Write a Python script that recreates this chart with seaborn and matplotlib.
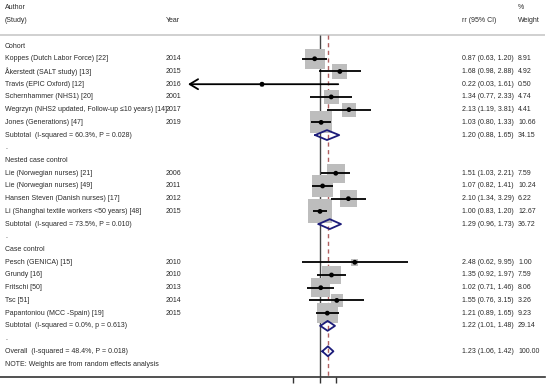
import numpy as np
import pandas as pd
import matplotlib
matplotlib.use("Agg")
import matplotlib.pyplot as plt
import seaborn as sns

# ---- data ----
groups = ["Cohort", "Nested case control", "Case control"]

cohort_study = ["Koppes (Dutch Labor Force) [22]", "Åkerstedt (SALT study) [13]",
                "Travis (EPIC Oxford) [12]", "Schernhammer (NHS1) [20]",
                "Wegrzyn (NHS2 updated, Follow-up ≤10 years) [14]", "Jones (Generations) [47]"]
cohort_year = [2014, 2015, 2016, 2001, 2017, 2019]
cohort_rr = [0.87, 1.68, 0.22, 1.34, 2.13, 1.03]
cohort_lo = [0.63, 0.98, 0.03, 0.77, 1.19, 0.80]
cohort_hi = [1.20, 2.88, 1.61, 2.33, 3.81, 1.33]
cohort_wt = [8.91, 4.92, 0.50, 4.74, 4.41, 10.66]

nested_study = ["Lie (Norwegian nurses) [21]", "Lie (Norwegian nurses) [49]",
                "Hansen Steven (Danish nurses) [17]", "Li (Shanghai textile workers <50 years) [48]"]
nested_year = [2006, 2011, 2012, 2015]
nested_rr = [1.51, 1.07, 2.10, 1.00]
nested_lo = [1.03, 0.82, 1.34, 0.83]
nested_hi = [2.21, 1.41, 3.29, 1.20]
nested_wt = [7.59, 10.24, 6.22, 12.67]

case_study = ["Pesch (GENICA) [15]", "Grundy [16]", "Fritschi [50]", "Tsc [51]",
              "Papantoniou (MCC -Spain) [19]"]
case_year = [2010, 2010, 2013, 2014, 2015]
case_rr = [2.48, 1.35, 1.02, 1.55, 1.21]
case_lo = [0.62, 0.92, 0.71, 0.76, 0.89]
case_hi = [9.95, 1.97, 1.46, 3.15, 1.65]
case_wt = [1.00, 7.59, 8.06, 3.26, 9.23]

sub_label = ["Subtotal  (I-squared = 60.3%, P = 0.028)",
             "Subtotal  (I-squared = 73.5%, P = 0.010)",
             "Subtotal  (I-squared = 0.0%, p = 0.613)"]
sub_rr = [1.20, 1.29, 1.22]
sub_lo = [0.88, 0.96, 1.01]
sub_hi = [1.65, 1.73, 1.48]
sub_wt = [34.15, 36.72, 29.14]

overall_label = "Overall  (I-squared = 48.4%, P = 0.018)"
overall_rr, overall_lo, overall_hi, overall_wt = 1.23, 1.06, 1.42, 100.00
note = "NOTE: Weights are from random effects analysis"

# ---- build row table ----
rows = []
r = 0
for g, (st, yr, rr, lo, hi, wt) in enumerate([
        (cohort_study, cohort_year, cohort_rr, cohort_lo, cohort_hi, cohort_wt),
        (nested_study, nested_year, nested_rr, nested_lo, nested_hi, nested_wt),
        (case_study, case_year, case_rr, case_lo, case_hi, case_wt)]):
    rows.append(dict(row=r, kind="head", label=groups[g])); r += 1
    for i in range(len(st)):
        rows.append(dict(row=r, kind="study", label=st[i], year=yr[i], rr=rr[i],
                         lo=lo[i], hi=hi[i], wt=wt[i])); r += 1
    rows.append(dict(row=r, kind="sub", label=sub_label[g], rr=sub_rr[g],
                     lo=sub_lo[g], hi=sub_hi[g], wt=sub_wt[g])); r += 1
    rows.append(dict(row=r, kind="dot", label=".")); r += 1
rows.append(dict(row=r, kind="sub", label=overall_label, rr=overall_rr,
                 lo=overall_lo, hi=overall_hi, wt=overall_wt)); r += 1
rows.append(dict(row=r, kind="note", label=note))
df = pd.DataFrame(rows)
studies = df[df.kind == "study"]
subs = df[df.kind == "sub"]

# ---- figure ----
sns.set_theme(style="white")
plt.rcParams["font.family"] = ["Liberation Sans", "DejaVu Sans"]
fs = 5.0
tc = "#2a2a2a"

fig = plt.figure(figsize=(5.5, 3.89), dpi=100)
W = 545.0          # axes width in px
null_px = 320.0    # px of rr = 1
scale = 38.3       # px per ln unit
ax = fig.add_axes([0, 12 / 389, W / 550, 1 - 12 / 389])
ax.set_xscale("log")
ax.set_xlim(np.exp(-null_px / scale), np.exp((W - null_px) / scale))
ax.set_ylim(26.02, -3.62)
clip_left = np.exp((188 - null_px) / scale)

top = -0.86
ax.axhline(top, color="#c8c8c8", lw=1.2, zorder=1)
ax.vlines(1, top, 26.02, color="#444444", lw=1.0, zorder=1)
ax.vlines(overall_rr, top, 26.02, color="#b06060", lw=1.0,
          linestyles=(0, (3, 2.5)), zorder=1)

# weight boxes (area proportional to weight)
k = 23.5
wmin, wmax = studies.wt.min(), studies.wt.max()
sns.scatterplot(data=studies, x="rr", y="row", size="wt", sizes=(k * wmin, k * wmax),
                size_norm=(wmin, wmax), marker="s", color="#bdbdbd", edgecolor="none",
                legend=False, ax=ax, zorder=2)

# confidence intervals
for _, s in studies.iterrows():
    lo = max(s.lo, clip_left)
    if s.lo < clip_left:
        ax.annotate("", xy=(clip_left, s.row), xytext=(s.hi, s.row),
                    arrowprops=dict(arrowstyle="->,head_length=0.5,head_width=0.3",
                                    color="black", lw=1.3, shrinkA=0, shrinkB=0),
                    zorder=3)
    else:
        ax.hlines(s.row, lo, s.hi, color="black", lw=1.3, zorder=3)
sns.scatterplot(data=studies, x="rr", y="row", color="black", s=12, edgecolor="none",
                legend=False, ax=ax, zorder=4)

# diamonds
h = 0.39
for _, s in subs.iterrows():
    ax.plot([s.lo, s.rr, s.hi, s.rr, s.lo], [s.row, s.row - h, s.row, s.row + h, s.row],
            color="#1c1c7a", lw=1.3, zorder=4)

# axis styling
for sp in ["top", "left", "right"]:
    ax.spines[sp].set_visible(False)
ax.spines["bottom"].set_color("#333333")
ax.spines["bottom"].set_linewidth(1.2)
ax.set_xticks([0.5, 1, 1.5])
ax.xaxis.set_minor_locator(matplotlib.ticker.NullLocator())
ax.set_xticklabels([])
ax.tick_params(axis="x", direction="out", length=4, width=1, color="#333333", bottom=True)
ax.set_yticks([])
ax.set_xlabel("")
ax.set_ylabel("")

# text columns
tr = ax.get_yaxis_transform()
x_lab, x_year, x_es, x_wt = 5 / W, 166 / W, 462 / W, 518 / W
kw = dict(transform=tr, fontsize=fs, color=tc, va="center", ha="left")
ax.text(x_lab, -3, "Author", **kw)
ax.text(x_lab, -2, "(Study)", **kw)
ax.text(x_year, -2, "Year", **kw)
ax.text(x_es, -2, "rr (95% CI)", **kw)
ax.text(x_wt, -3, "%", **kw)
ax.text(x_wt, -2, "Weight", **kw)
for _, s in df.iterrows():
    ax.text(x_lab, s.row, s.label, **kw)
    if s.kind == "study":
        ax.text(x_year, s.row, str(int(s.year)), **kw)
    if s.kind in ("study", "sub"):
        ax.text(x_es, s.row, f"{s.rr:.2f} ({s.lo:.2f}, {s.hi:.2f})", **kw)
        ax.text(x_wt, s.row, f"{s.wt:.2f}", **kw)

fig.savefig("out.png", dpi=100)
